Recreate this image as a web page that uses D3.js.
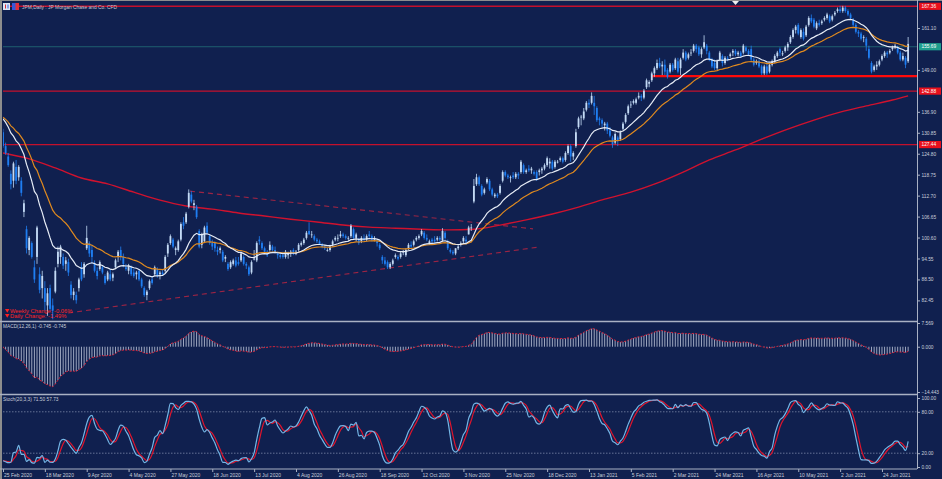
<!DOCTYPE html>
<html>
<head>
<meta charset="utf-8">
<script src="https://cdnjs.cloudflare.com/ajax/libs/d3/7.8.5/d3.min.js"></script>
<style>
html, body { margin: 0; padding: 0; background: #10204f; overflow: hidden; }
svg { display: block; }
text { font-family: "Liberation Sans", Arial, sans-serif; }
</style>
</head>
<body>
<svg id="chart"></svg>
<script>
// ---- data ----
// daily bars: open, high, low, close (25 Feb 2020 .. 9 Jul 2021)
const bars = [
  [131,132,126.5,127],[127,128,124.5,125],[124,125,121,121.5],[119,120,114.5,116],[117,122.5,115,122],[121,123,116,117],[118,121.5,117,121],[117,118,112.5,113.5],[108,111.5,106.5,110.5],[103,104,96,97.5],
  [97,101,95.5,100.5],[99,99.5,94.5,95],[92,94,87.5,88.5],[95,104,93,103.5],[90,92,84.5,85.5],[86,91,83,89.5],[86,88,79.5,82],[81,86,78,84.5],[86,87,79.5,80],[81,83,77,79.5],
  [85,92,84.5,91],[93,98,92,96.5],[95,98.5,93,98],[95,96,91.5,92.5],[93,95,91,94],[93.5,94.5,89.5,90.5],[87,88,83,84],[84,86,82.5,85],[84,85,81.5,82.5],[86,89,85,88.5],
  [92,93.5,88,88.5],[90,93.5,89,93],[97.5,104,97,100.5],[99,99.5,95,96],[97,98.5,93,95],[93,94,90.5,91],[91,92,88.5,89.5],[91.5,94,91,93.5],[92,92.5,90,90.5],[89.5,90,87,87.5],
  [88.5,91,88,90.5],[90,91.5,88,88.5],[89,90.5,88,90],[92,94.5,91.5,94],[95,97,93.5,96.5],[97,98,94,95],[95,96,92,93],[92,93,91,91.5],[91,93,90,92.5],[92,92.5,89.5,90],
  [90.5,91.5,89,89.5],[90,91,88.5,90.5],[91,91.5,88,88.5],[88.5,89,86,86.5],[86,86.5,83.5,84],[84,85.5,82.5,85],[86,88.5,85.5,88],[88.5,89.5,87,87.5],[90,92.5,89.5,92],[91.5,92,89,89.5],
  [90,91,88.5,90.5],[90.5,91.5,89.5,90],[91,95.5,90.5,95],[96,99,95,98.5],[99,101.5,98.5,101],[100,100.5,97.5,98],[97,98,95.5,97.5],[97,100,96.5,99.5],[100,105,99.5,104.5],[105,106.5,103,104],
  [105,108,104.5,107.5],[109.5,114.5,109,113.5],[113,114,110.5,111],[110,111.5,108.5,110.5],[109.5,110,106,106.5],[102.5,103,97.5,98],[98.5,102,97.5,101.5],[99.5,104,99,103.5],[104,105,101.5,102],[101,101.5,98.5,99],
  [99,100,97,98],[99,99.5,96.5,97.5],[97,98,95.5,96.5],[97,98,96,97.5],[96.5,97,93.5,94],[94.5,95.5,93.5,95],[93,93.5,91,91.5],[92,94,91.5,93.5],[93,94.5,92.5,94],[94,95,92,92.5],
  [93.5,95,92.5,93],[94,96.5,93.5,96],[95,95.5,92.5,93],[93,93.5,91.5,92.5],[92,92.5,89.5,90],[90.5,94,90,93.5],[94.5,97,94,94.5],[94,99.5,93.5,99],[100,101,98.5,99.5],[99,99.5,97,97.5],
  [97.5,98,96,96.5],[96.5,97,95,95.5],[97,99.5,96.5,98.5],[98,98.5,96.5,97],[97,98,96,96.5],[96,96.5,94.5,95.5],[95.5,96,94.5,95],[95.5,96.5,94.5,95],[95,97,94.5,96.5],[95.5,96.5,94.5,96],
  [96,97,95,96.5],[97,97.5,95.5,96],[96,97,95.5,96.5],[97,99,96.5,98.5],[98.5,99.5,98,99],[99,100.5,98.5,100],[100.5,102.5,100,102],[102.5,105,101.5,101.5],[101.5,102.5,100.5,101.5],[101,101.5,99.5,100],
  [100,100.5,99,99.5],[99.5,100,98.5,98.5],[98.5,99,97.5,98],[98,98.5,97,97.5],[97,97.5,96.5,97],[97,98.5,96.5,98],[98.5,100,98,99.5],[100,101,99.5,100.5],[100.5,101.5,99.5,100.5],[101,102.5,100.5,101.5],
  [101.5,102,100.5,101],[101,101.5,100,100.5],[100.5,101,99.5,100.5],[101,104.5,100.5,104],[103,103.5,100,100.5],[100.5,102,99.5,101.5],[100,100.5,98.5,99],[99.5,101,99,100.5],[100.5,101.5,99.5,100],[100,101.5,99.5,101],
  [101.5,102.5,100.5,101],[101,101.5,99.5,100],[100,101,99.5,100.5],[99.5,100,98,99],[98.5,99,97,97.5],[95,95.5,93,94],[94,95,92.5,93],[93.5,94,91.5,92],[92,93.5,91.5,93],[93,94.5,92.5,94],
  [95,96,94.5,95.5],[95,95.5,94,94.5],[95,96.5,94.5,96],[96.5,97,95.5,96.5],[95.5,97.5,95,97],[97.5,99,97,98.5],[98.5,99.5,97.5,98],[98.5,100,98,99.5],[100,101,99.5,100.5],[100.5,101.5,100,101],
  [101.5,103,101,102.5],[102,102.5,100,100.5],[100.5,101.5,99.5,100],[99,100,98.5,99.5],[100,100.5,99,99.5],[100,101,99,99.5],[100,101,99.5,100.5],[100.5,101,99.5,100],[99.8,103.3,99.5,102.5],[102,102.5,100,100.5],
  [99.5,100,97,97.5],[97,97.5,96,96.5],[96.5,97,95.5,96],[96,97.5,95.5,97.5],[97.5,98.5,97,98],[98.5,99.5,98,99],[99.5,101,99,100.5],[100,101,98.5,99.5],[101.5,104,101.5,103.5],[103.5,104.5,102.5,103.5],
  [111,117.5,110.5,115.5],[116,119,115.5,118],[118,118.5,115.5,116],[115.5,116,112.5,113],[113.5,115,113,114.5],[116.5,118,116,117.5],[117,117.5,114,114.5],[114.5,115,112.5,113],[112.5,113.5,112,113],[113,113.5,112,112.5],
  [113.5,116,113,115.5],[117,120,116.5,119.5],[119.5,120,118,118.5],[118.5,119,117.5,118],[118,118.5,116.5,118],[118.5,119.5,117.5,118],[118,119.5,117.5,119],[119,119.5,117.5,118.5],[119.5,123,119,122.5],[121.5,122,119,119.5],
  [119.5,120.5,119,120],[120.5,121.5,119.5,120],[120,121,119,120.5],[119.5,120,118.5,119],[119.5,120,117,117.5],[119.5,120.5,118.5,120],[120,121,119,120.5],[120.5,122,120,121.5],[121.5,124,121,123.5],[122,123.5,120.5,122.5],
  [122.5,123,120,120.5],[121,123,120.5,122.5],[122.5,123,122,122.5],[123,124,122.5,123.5],[123.5,124,122,122.5],[123,125.5,122.5,125],[125,127.5,124.5,127],[127,127.5,122.5,124],[124,125.5,123,125],[127,132,126.5,131],
  [132.5,135.5,132,135],[135.5,136,133,135.5],[135,138,134.5,137],[137.5,140,137,139.5],[139.5,140.5,138,139],[139.5,142.5,139,141.5],[139.5,141.5,136,138.5],[138,138.5,134,134.5],[135,135.5,133,134.5],[134.5,135,132.5,133.5],
  [133,134,131.5,133.5],[133.5,134,130.5,131.5],[131.5,132.5,129.5,130],[129.5,130,126.5,127.5],[128,131,127.5,130.5],[129.5,130,127,128.5],[129,131.5,128.5,131],[132,134,131.5,133.5],[134,136.5,133.5,136],[136.5,139,136,138.5],
  [139,140,138,139],[139.5,140.5,139,140],[139.5,141,139,140.5],[141,142.5,140.5,141.5],[141.5,142,140,141],[141,143.5,140.5,143],[144,146.5,143.5,146],[145,146,144,145.5],[146,148.5,145.5,148],[148,150,147,149.5],
  [149.5,152,149,151],[151,152.5,149.5,150],[150,151.5,147.5,150.5],[150.5,152,147.5,148.5],[149,149.5,146.5,147],[148.5,151,148,150.5],[150.5,151,148.5,149],[149.5,152.5,149,152],[151.5,152.5,148,148.5],[149.5,152.5,147.5,152],
  [152.5,155,152,154],[154,154.5,151.5,152],[152.5,154,152,153.5],[154,155,153,154],[154.5,156.5,154,156],[156,156.5,154,155],[155.5,156,153,153.5],[153.5,155.5,152.5,155],[155.5,159,155,157],[156,156.5,153.5,154.5],
  [154,154.5,151.5,152],[152,152.5,149.5,150],[151,152,149,149.5],[149.5,152,149,151.5],[152,154.5,151.5,154],[153,153.5,150,151],[151,153,150.5,152.5],[152.5,153,151.5,152.2],[153,154,152.5,153.5],[154,155,153,154.5],
  [154.5,155,153,153.5],[153.5,154.5,153,154],[154,154.5,152.5,153],[154,156.5,153.5,156],[155.5,156,154,154.5],[154.5,155,153,153.5],[155,156,151.5,152],[152,152.5,150,150.5],[151,152,150.5,151.5],[151.5,152,149.5,150],
  [150,150.5,147.5,148],[148,150.5,147.5,150],[150,151,147.5,148],[148.5,151,148,150.5],[150.5,152,150,151.5],[151.5,153.5,151,153],[153,154.5,152.5,154],[155,155.5,153,154],[153.5,154.5,153,153.8],[154.5,156,154,155.5],
  [155.5,157,154.5,156.5],[157,159,156.5,158.5],[158.5,161,158,160.5],[160.5,162,159.5,161.5],[162,162.5,159,159.5],[158.5,161,158,160.5],[160,161,157.5,158],[159,162,158.5,161.5],[162,164.5,161.5,164],[164,165,162.5,163],
  [163.5,164,161,161.5],[161,163,160.5,162.5],[162.5,163.5,161.5,162],[162.5,163.5,162,163],[163.5,164.5,163,164],[164,165.5,163.5,165],[164.5,165,162.5,163],[163.5,165,163,164.5],[165,166,164.5,165.5],[166,167,165.5,166.5],
  [166.5,167.5,165.5,166],[166,167.5,165.5,167],[167,167.5,165.5,166],[166,166.5,164.5,165],[165,165.5,163.5,164],[163.5,164,161.5,162],[162,162.5,159.5,160],[160,160.5,158.5,159.5],[159.5,160,157.5,158],[158.5,159,157,158.5],
  [158,158.5,154.5,156],[155,156,152,152.5],[151,151.5,148,148.5],[149,150.5,148.5,150],[150,151.5,149,150.5],[150.5,152,150,151.5],[152,153.5,151.5,153],[153,154.5,152.5,154],[154,154.5,152.5,153.5],[154,155,153.5,154.5],
  [155,156,154.5,155.5],[155.5,156.5,155,156],[155.5,156,153.5,154],[154,154.5,151.5,152],[152,154,151.5,153],[152.5,153,149.5,150.5],[151.5,158.5,151,156.5]
];

// date labels, one every 16 bars
const dateLabels = ["25 Feb 2020","18 Mar 2020","9 Apr 2020","4 May 2020","27 May 2020","18 Jun 2020",
  "13 Jul 2020","4 Aug 2020","26 Aug 2020","18 Sep 2020","12 Oct 2020","3 Nov 2020","25 Nov 2020",
  "18 Dec 2020","13 Jan 2021","5 Feb 2021","2 Mar 2021","24 Mar 2021","16 Apr 2021","10 May 2021",
  "2 Jun 2021","24 Jun 2021"];
const labelStep = 16;

const priceTicks = [82.45, 88.50, 94.55, 100.60, 106.65, 112.70, 118.75, 124.80, 130.85, 136.90, 149.00, 161.10];
const macdTicks = [7.569, 0, -14.443];
const stochTicks = [100, 80, 20, 0];

// horizontal levels
const levelPrices = [167.36, 142.88, 127.44];
const supportPrice = 147.2, supportFromBar = 248;
const lastPrice = 155.69;

// long moving average (red), read at sample bars
const slowMaBars = [0,10,20,30,40,50,60,70,80,90,100,110,120,130,140,150,160,170,180,190,200,210,220,230,240,250,260,270,280,290,300,310,320,330,340,346];
const slowMaVals = [125.0,123.3,120.7,117.8,116.1,113.7,111.4,109.7,108.8,107.7,106.8,105.9,105.1,104.2,103.6,103.3,103.0,102.8,103.0,104.2,105.7,107.4,109.4,111.7,113.7,116.3,119.5,123.0,125.9,129.0,131.9,134.5,136.8,138.6,140.3,141.5];

// dashed channel lines [bar, price]
const trendUpper = [[71.5, 114.0], [202.6, 103.1]];
const trendLower = [[24.9, 78.8], [205.3, 97.9]];

// starting values of the moving averages at the first bar
const fastMaStart = 135.8, midMaStart = 135.9;
const ema12Start = 135.8, ema26Start = 135.2;

// ---- layout ----
let width = 942, height = 479,
  plotLeft = 3, plotRight = 917,
  mainTop = 3, mainBottom = 320,
  macdTop = 323, macdBottom = 392,
  stTop = 396, stBottom = 467,
  axisY = 469;

const bg = "#10204f", gridGrey = "#a9b1c4", txt = "#c9cfdb",
  bullCol = "#c3daf5", bearCol = "#1f7ef2";

// ---- indicators ----
const closes = bars.map(d => d[3]);
function ema(vals, period, start) {
  let k = 2 / (period + 1), prev = start;
  return vals.map(v => prev = prev + k * (v - prev));
}
const fastMa = ema(closes, 18, fastMaStart);
const midMa = ema(closes, 32, midMaStart);
const e12 = ema(closes, 12, ema12Start), e26 = ema(closes, 26, ema26Start);
const macd = e12.map((v, i) => v - e26[i]);

const hl = bars.map((d, i) => {
  const w = bars.slice(Math.max(0, i - 19), i + 1);
  const ll = d3.min(w, b => b[2]), hh = d3.max(w, b => b[1]);
  return [d[3] - ll, hh - ll];
});
const stochK = hl.map((d, i) => {
  const w = hl.slice(Math.max(0, i - 2), i + 1);
  return 100 * d3.sum(w, x => x[0]) / d3.sum(w, x => x[1]);
});
const stochD = stochK.map((d, i) => d3.mean(stochK.slice(Math.max(0, i - 2), i + 1)));

// ---- svg ----
const svg = d3.select("#chart").attr("width", width).attr("height", height);
svg.append("rect").attr("width", width).attr("height", height).attr("fill", bg);

const x = d3.scaleLinear().domain([0, 346]).range([3, 3 + 346 * 2.616]);
const y = d3.scaleLinear().domain([82.45, 161.10]).range([300.4, 28]);
const yM = d3.scaleLinear().domain([-14.443, 7.569]).range([macdBottom, macdTop]);
const yS = d3.scaleLinear().domain([0, 100]).range([stBottom, stTop + 2]);

const defs = svg.append("defs");
[["clipMain", mainTop, mainBottom], ["clipMacd", macdTop, macdBottom], ["clipSt", stTop, stBottom]].forEach(c => {
  defs.append("clipPath").attr("id", c[0]).append("rect")
    .attr("x", plotLeft).attr("y", c[1]).attr("width", plotRight - plotLeft).attr("height", c[2] - c[1]);
});

// ---- main panel ----
const main = svg.append("g").attr("clip-path", "url(#clipMain)");

// current price line
main.append("line").attr("x1", 0).attr("x2", plotRight)
  .attr("y1", y(lastPrice)).attr("y2", y(lastPrice))
  .attr("stroke", "#1f6070").attr("stroke-width", 1);

// level lines
main.selectAll(".lvl").data(levelPrices).enter().append("line")
  .attr("x1", 0).attr("x2", plotRight)
  .attr("y1", d => y(d)).attr("y2", d => y(d))
  .attr("stroke", "#c4102c").attr("stroke-width", 1.4);

main.append("line").attr("x1", x(supportFromBar)).attr("x2", plotRight)
  .attr("y1", y(supportPrice)).attr("y2", y(supportPrice))
  .attr("stroke", "#ff0a0a").attr("stroke-width", 2.4);

// dashed channel
[trendUpper, trendLower].forEach(t => {
  main.append("line")
    .attr("x1", x(t[0][0])).attr("y1", y(t[0][1]))
    .attr("x2", x(t[1][0])).attr("y2", y(t[1][1]))
    .attr("stroke", "#9c2444").attr("stroke-width", 1.1).attr("stroke-dasharray", "5,4");
});

// red long MA
const slowLine = d3.line().x(d => x(d[0])).y(d => y(d[1])).curve(d3.curveMonotoneX);
main.append("path").datum(slowMaBars.map((b, i) => [b, slowMaVals[i]]))
  .attr("d", slowLine).attr("fill", "none").attr("stroke", "#d0122e").attr("stroke-width", 1.4);

// candles
const cg = main.append("g");
const candle = cg.selectAll("g").data(bars).enter().append("g");
candle.append("line")
  .attr("x1", (d, i) => x(i)).attr("x2", (d, i) => x(i))
  .attr("y1", d => y(d[1])).attr("y2", d => y(d[2]))
  .attr("stroke", d => d[3] >= d[0] ? bullCol : bearCol).attr("stroke-width", 0.8);
candle.append("rect")
  .attr("x", (d, i) => x(i) - 0.9).attr("width", 1.8)
  .attr("y", d => y(Math.max(d[0], d[3])))
  .attr("height", d => Math.max(0.8, Math.abs(y(d[0]) - y(d[3]))))
  .attr("fill", d => d[3] >= d[0] ? bullCol : bearCol);

// fast & mid MAs
const maLine = d3.line().x((d, i) => x(i)).y(d => y(d));
main.append("path").datum(midMa).attr("d", maLine).attr("fill", "none")
  .attr("stroke", "#e08a1f").attr("stroke-width", 1.2);
main.append("path").datum(fastMa).attr("d", maLine).attr("fill", "none")
  .attr("stroke", "#e6ecf6").attr("stroke-width", 1.2);

// ---- MACD panel ----
const mg = svg.append("g").attr("clip-path", "url(#clipMacd)");
mg.selectAll("line").data(macd).enter().append("line")
  .attr("x1", (d, i) => x(i)).attr("x2", (d, i) => x(i))
  .attr("y1", yM(0)).attr("y2", d => yM(d))
  .attr("stroke", "#c2c9dc").attr("stroke-width", 0.8);
mg.append("path").datum(macd)
  .attr("d", d3.line().x((d, i) => x(i)).y(d => yM(d)))
  .attr("fill", "none").attr("stroke", "#d42038").attr("stroke-width", 1)
  .attr("stroke-dasharray", "2,1.5");

// ---- Stochastic panel ----
const sg = svg.append("g").attr("clip-path", "url(#clipSt)");
[80, 20].forEach(v => {
  sg.append("line").attr("x1", plotLeft).attr("x2", plotRight)
    .attr("y1", yS(v)).attr("y2", yS(v))
    .attr("stroke", "#8a96b4").attr("stroke-width", 0.7).attr("stroke-dasharray", "1.5,1.5");
});
const stLine = d3.line().x((d, i) => x(i)).y(d => yS(d)).curve(d3.curveMonotoneX);
sg.append("path").datum(stochD).attr("d", stLine).attr("fill", "none")
  .attr("stroke", "#e0142c").attr("stroke-width", 1.2);
sg.append("path").datum(stochK).attr("d", stLine).attr("fill", "none")
  .attr("stroke", "#74b6e6").attr("stroke-width", 1.2);

// ---- frame, separators ----
svg.append("rect").attr("x", 0).attr("y", 0).attr("width", 2).attr("height", height).attr("fill", "#8d8d8d");
svg.append("rect").attr("x", 0).attr("y", 0).attr("width", width).attr("height", 1).attr("fill", "#8d8d8d");
[mainBottom + 1.5, stTop - 1.5].forEach(v => {
  svg.append("line").attr("x1", 0).attr("x2", plotRight).attr("y1", v).attr("y2", v)
    .attr("stroke", gridGrey).attr("stroke-width", 1.6);
});
svg.append("line").attr("x1", 0).attr("x2", plotRight).attr("y1", axisY).attr("y2", axisY)
  .attr("stroke", gridGrey).attr("stroke-width", 1);

// ---- axes ----
function styleAxis(g) {
  g.select(".domain").attr("stroke", gridGrey).attr("stroke-width", 1);
  g.selectAll(".tick line").attr("stroke", gridGrey);
  g.selectAll(".tick text").attr("fill", txt).style("font-size", "4.8px")
    .style("font-family", "'Liberation Sans', Arial, sans-serif");
}
const rAxis = svg.append("g").attr("transform", `translate(${plotRight},0)`)
  .call(d3.axisRight(y).tickValues(priceTicks).tickFormat(d3.format(".2f")).tickSize(3).tickPadding(1.5))
  .call(styleAxis);
rAxis.select(".domain").attr("d", `M0.5,0V${axisY}`);

svg.append("g").attr("transform", `translate(${plotRight},0)`)
  .call(d3.axisRight(yM).tickValues(macdTicks).tickFormat(d3.format(".3f")).tickSize(3).tickPadding(1.5))
  .call(styleAxis).select(".domain").remove();
svg.append("g").attr("transform", `translate(${plotRight},0)`)
  .call(d3.axisRight(yS).tickValues(stochTicks).tickFormat(d3.format(".2f")).tickSize(3).tickPadding(1.5))
  .call(styleAxis).select(".domain").remove();

const dAxis = svg.append("g").attr("transform", `translate(0,${axisY})`)
  .call(d3.axisBottom(x).tickValues(dateLabels.map((d, i) => i * labelStep))
    .tickFormat((d, i) => dateLabels[i]).tickSize(3).tickPadding(1.5))
  .call(styleAxis);
dAxis.select(".domain").remove();
dAxis.selectAll(".tick text").attr("text-anchor", "start").attr("dx", "0.5").style("font-size", "5px");

// price boxes on the right axis
const boxes = levelPrices.map(p => ({ p: p, fill: "#e8101c" }));
boxes.push({ p: lastPrice, fill: "#1e9e8e" });
const bx = svg.selectAll(".box").data(boxes).enter().append("g");
bx.append("rect").attr("x", plotRight + 2).attr("width", 22)
  .attr("y", d => y(d.p) - 3.6).attr("height", 7.2).attr("fill", d => d.fill);
bx.append("text").attr("x", plotRight + 4.5).attr("y", d => y(d.p) + 1.7)
  .attr("fill", "#ffffff").style("font-size", "4.8px").text(d => d.p.toFixed(2));

// ---- titles ----
svg.append("rect").attr("x", 3).attr("y", 3).attr("width", 7).attr("height", 7).attr("fill", "#dfe6f4");
svg.append("rect").attr("x", 5).attr("y", 4.5).attr("width", 1).attr("height", 4).attr("fill", "#e0303a");
svg.append("rect").attr("x", 7.5).attr("y", 4.5).attr("width", 1).attr("height", 4).attr("fill", "#3060e0");
svg.append("rect").attr("x", 12).attr("y", 3).attr("width", 7).attr("height", 7).attr("fill", "#3858d8");
svg.append("rect").attr("x", 15.5).attr("y", 3).attr("width", 3.5).attr("height", 7).attr("fill", "#e0303a");
svg.append("text").attr("x", 22).attr("y", 8.6).attr("fill", "#c4c9d4").style("font-size", "4.9px")
  .text("JPM,Daily : JP Morgan Chase and Co. CFD");

svg.append("path").attr("d", "M732,1 L739,1 L735.5,5 Z").attr("fill", "#f0f0f0");

svg.append("text").attr("x", 3).attr("y", 328).attr("fill", txt).style("font-size", "4.8px")
  .text("MACD(12,26,1) -0.745 -0.745");
svg.append("text").attr("x", 3).attr("y", 401).attr("fill", txt).style("font-size", "4.8px")
  .text("Stoch(20,3,3) 71.50 57.73");

const changes = ["Weekly Change: -0.06%", "Daily Change: -1.49%"];
changes.forEach((t, i) => {
  const yy = 313 + i * 5;
  svg.append("path").attr("d", `M5,${yy - 4} L9.5,${yy - 4} L7.25,${yy - 0.3} Z`).attr("fill", "#ff2020");
  svg.append("text").attr("x", 10).attr("y", yy).attr("fill", "#ff2424").style("font-size", "5.8px").text(t);
});
</script>
</body>
</html>
